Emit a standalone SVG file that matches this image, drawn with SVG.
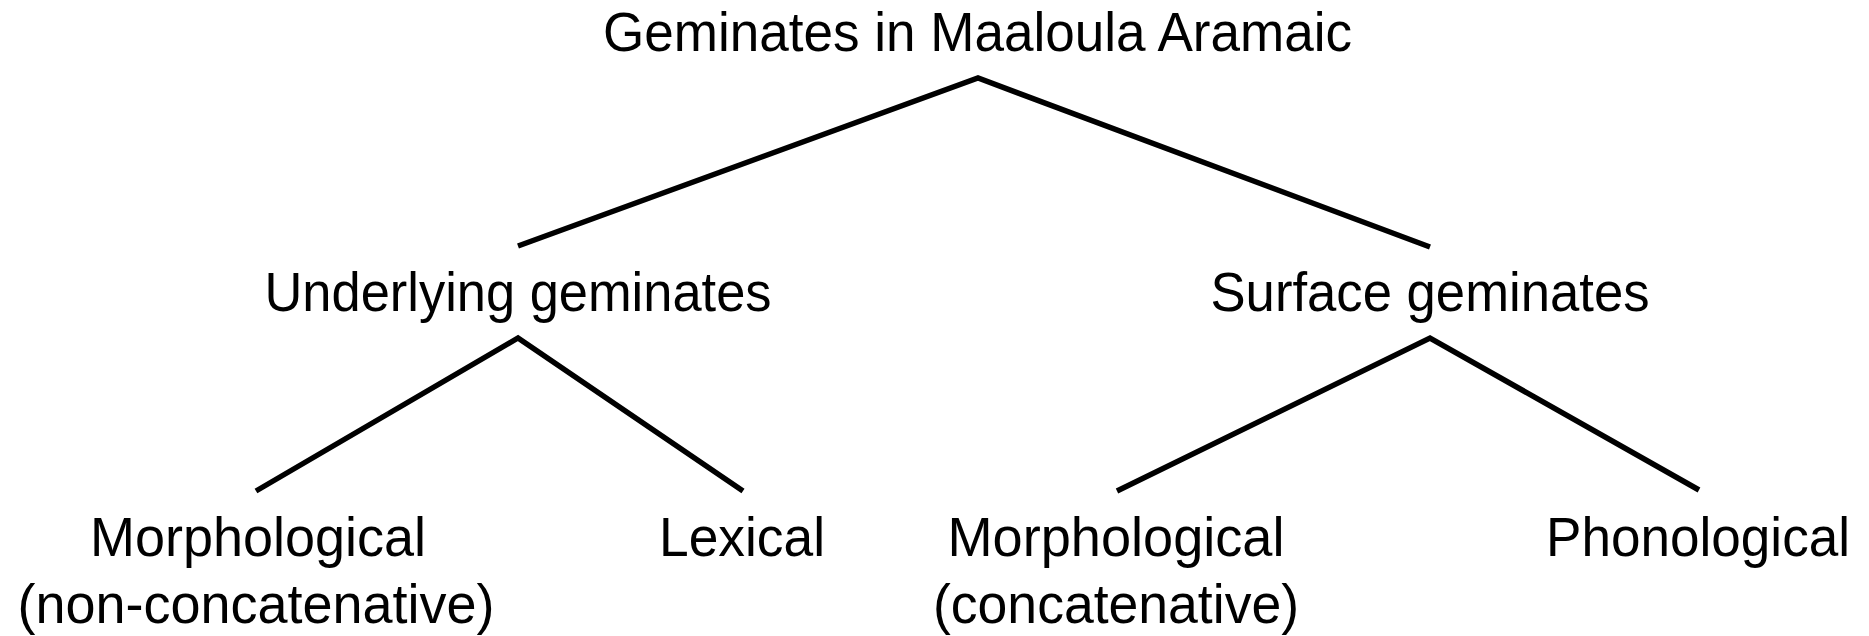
<svg xmlns="http://www.w3.org/2000/svg" width="1869" height="636" viewBox="0 0 1869 636">
  <style>
    .lbl { font-family: "Liberation Sans", Arial, sans-serif; font-size: 55px; fill: #000; text-anchor: middle; }
    .edge { fill: none; stroke: #000; stroke-width: 5.5; stroke-linejoin: miter; stroke-linecap: butt; }
  </style>
  <rect width="1869" height="636" fill="#fff"/>

  <!-- tree branches -->
  <g id="connectors">
    <polyline class="edge" points="518,246 978,78 1430,247"/>
    <polyline class="edge" points="256,491 518,338 743,491"/>
    <polyline class="edge" points="1117,491 1430,338 1699,490"/>
  </g>

  <g id="root">
    <text class="lbl" x="977.5" y="51" textLength="749" lengthAdjust="spacingAndGlyphs">Geminates in Maaloula Aramaic</text>
  </g>

  <g id="underlying">
    <text class="lbl" x="518" y="311" textLength="507" lengthAdjust="spacingAndGlyphs">Underlying geminates</text>
  </g>

  <g id="surface">
    <text class="lbl" x="1430" y="311" textLength="439" lengthAdjust="spacingAndGlyphs">Surface geminates</text>
  </g>

  <g id="morph-nonconcat">
    <text class="lbl" x="258" y="556" textLength="336" lengthAdjust="spacingAndGlyphs">Morphological</text>
    <text class="lbl" x="256" y="623" textLength="477" lengthAdjust="spacingAndGlyphs">(non-concatenative)</text>
  </g>

  <g id="lexical">
    <text class="lbl" x="742" y="556" textLength="166" lengthAdjust="spacingAndGlyphs">Lexical</text>
  </g>

  <g id="morph-concat">
    <text class="lbl" x="1116" y="556" textLength="337" lengthAdjust="spacingAndGlyphs">Morphological</text>
    <text class="lbl" x="1116" y="623" textLength="366" lengthAdjust="spacingAndGlyphs">(concatenative)</text>
  </g>

  <g id="phonological">
    <text class="lbl" x="1698" y="556" textLength="304" lengthAdjust="spacingAndGlyphs">Phonological</text>
  </g>
</svg>
